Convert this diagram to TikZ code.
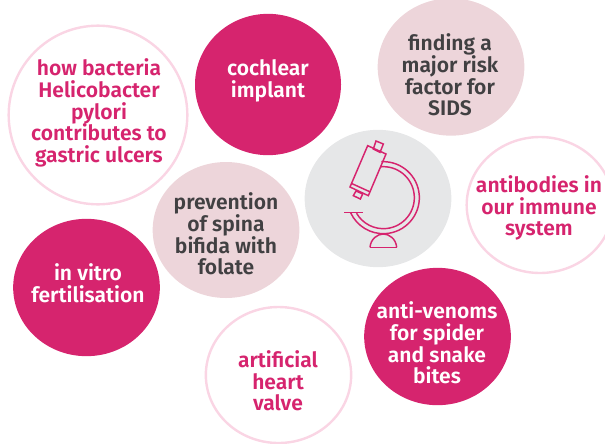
\documentclass[tikz,border=0pt]{standalone}
\usepackage{fontspec}
\setmainfont{Fira Sans SemiBold}
\usetikzlibrary{shapes.geometric}
\definecolor{mag}{HTML}{D6246E}
\definecolor{lpink}{HTML}{FAD5E4}
\definecolor{pale}{HTML}{EDD5DA}
\definecolor{gry}{HTML}{E6E7E8}
\definecolor{dark}{HTML}{414042}
\tikzset{
 bub/.style={ellipse,inner sep=0pt,outer sep=0pt,minimum width=110pt,minimum height=103pt},
 solidb/.style={bub,fill=mag},
 paleb/.style={bub,fill=pale},
 ringb/.style={bub,draw=lpink,line width=1.8pt,fill=white},
 txt/.style={align=center,font=\fontsize{15.8pt}{16.2pt}\selectfont,inner sep=0pt},
 mic/.style={draw=mag,line width=1.1pt,line join=miter},
}
\begin{document}
\begin{tikzpicture}[x=0.75pt,y=-0.75pt]
\useasboundingbox (0,0) rectangle (605,443);
\clip (0,0) rectangle (605,443);
\node[ringb,minimum width=134pt,minimum height=134pt] (b1) at (98,115) {};
\node[solidb,minimum width=109.5pt,minimum height=106pt] (b2) at (268,84.5) {};
\node[paleb] (b3) at (451,67) {};
\node[bub,fill=gry] (b4) at (378,198.5) {};
\node[ringb,minimum width=110pt,minimum height=102pt] (b5) at (540,205) {};
\node[paleb,minimum height=102pt] (b6) at (226,230) {};
\node[solidb] (b7) at (86.5,287.5) {};
\node[solidb] (b8) at (437.5,336.5) {};
\node[ringb,minimum width=109pt,minimum height=102pt] (b9) at (278.5,375) {};
\node[txt,text=mag] (t1) at (99,113) {how bacteria\\Helicobacter\\pylori\\contributes to\\gastric ulcers};
\node[txt,text=white] (t2) at (268,81) {cochlear\\implant};
\node[txt,text=dark] (t3) at (450,75) {finding a\\major risk\\factor for\\SIDS};
\node[txt,text=mag] (t5) at (539,208) {antibodies in\\our immune\\system};
\node[txt,text=dark] (t6) at (226,234) {prevention\\of spina\\bifida with\\folate};
\node[txt,text=white] (t7) at (88,283) {in vitro\\fertilisation};
\node[txt,text=white] (t8) at (437,343) {anti-venoms\\for spider\\and snake\\bites};
\node[txt,text=mag] (t9) at (278,381) {artificial\\heart\\valve};
\begin{scope}[shift={(300,125)},x=0.25pt,y=-0.25pt]
 \draw[mic] (203,62) -- (258,87) -- (205,212) -- (150,186) -- cycle;
 \draw[mic] (156,176) -- (211,201);
 \draw[mic] (228,48) -- (250,57) -- (240,82) -- (220,72) -- cycle;
 \draw[mic] (168,198) -- (188,207) -- (181,222) -- (160,212) -- cycle;
 \draw[mic] (250,218) ++(-93:108) arc (-93:155:108);
 \draw[mic] (250,218) ++(-96:93) arc (-96:150:93);
 \draw[mic] (133,262) -- (190,262);
 \draw[mic] (210,367) -- (290,367);
 \draw[mic] (210,367) .. controls (212,342) and (232,327) .. (250,327) .. controls (268,327) and (288,342) .. (290,367);
\end{scope}
\end{tikzpicture}
\end{document}
